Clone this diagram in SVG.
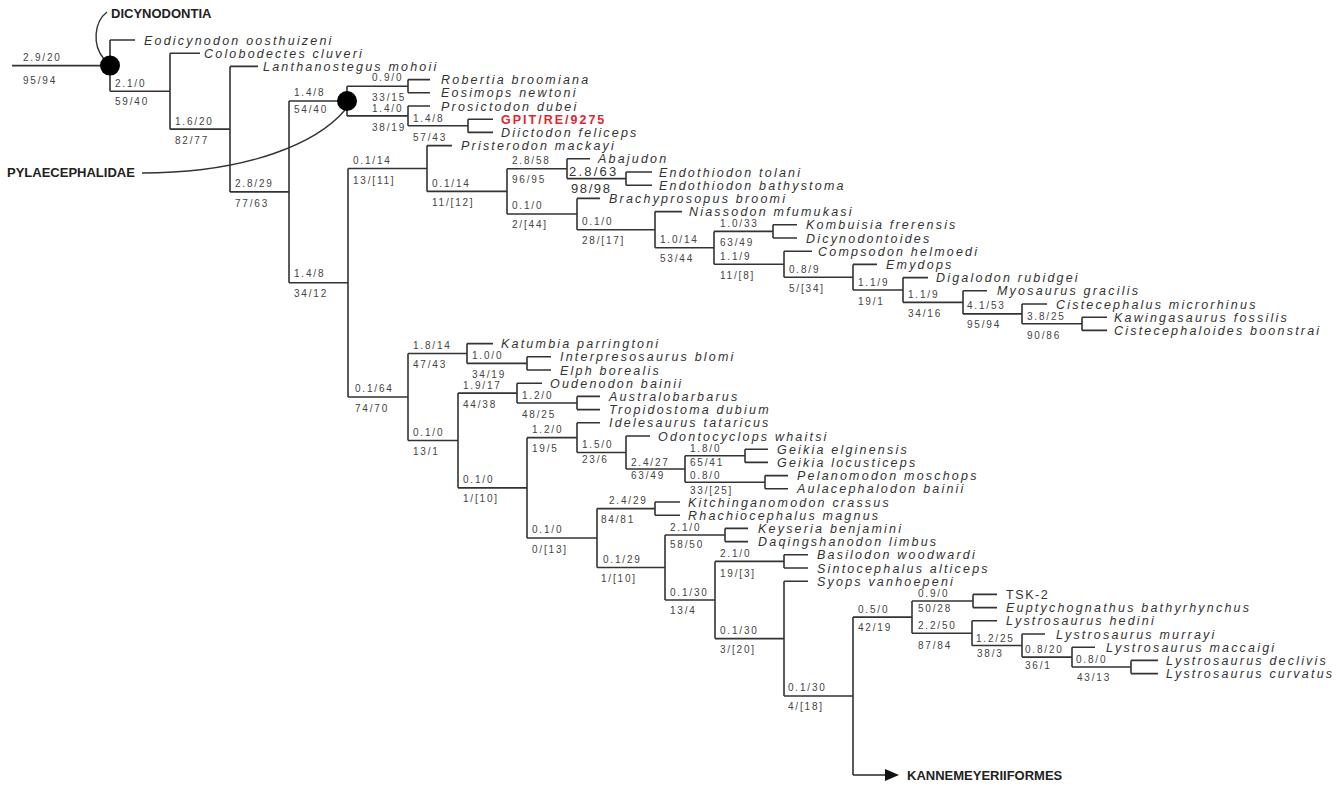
<svg xmlns="http://www.w3.org/2000/svg" width="1343" height="787" viewBox="0 0 1343 787">
<style>
.br{fill:none;stroke:#333;stroke-width:1.6}
.sp{font-family:"Liberation Sans",Arial,sans-serif;font-style:italic;font-size:12.5px;letter-spacing:2.2px;fill:#333}
.up{font-family:"Liberation Sans",Arial,sans-serif;font-size:12.5px;letter-spacing:1.6px;fill:#333}
.red{font-family:"Liberation Sans",Arial,sans-serif;font-weight:bold;font-size:12.5px;letter-spacing:2px;fill:#e0262f}
.lb{font-family:"Liberation Sans",Arial,sans-serif;font-size:10px;letter-spacing:1.8px;fill:#444}
.big{font-family:"Liberation Sans",Arial,sans-serif;font-size:13px;letter-spacing:2.2px;fill:#333}
.cl{font-family:"Liberation Sans",Arial,sans-serif;font-weight:bold;font-size:13px;fill:#222}
.dot{fill:#000}
</style>
<defs>
<marker id="arr" markerUnits="userSpaceOnUse" markerWidth="14" markerHeight="12" refX="0" refY="6" orient="auto">
<path d="M0,0 L14,6 L0,12 Z" fill="#111"/>
</marker>
</defs>
<rect width="1343" height="787" fill="#fff"/>
<g id="connectors" class="br">
<path d="M12,65.6 H110"/>
<path d="M110,40 V91.2 M110,40 H135 M110,91.2 H170"/>
<path d="M170,53.2 V129.15 M170,53.2 H200 M170,129.15 H230"/>
<path d="M230,66.4 V191.9 M230,66.4 H258 M230,191.9 H289"/>
<path d="M289,101.05 V282.75 M289,101.05 H347 M289,282.75 H348"/>
<path d="M347,86.2 V115.9 M347,86.2 H408 M347,115.9 H408"/>
<path d="M408,79.6 V92.8 M408,79.6 H430 M408,92.8 H430"/>
<path d="M408,106 V125.8 M408,106 H430 M408,125.8 H468"/>
<path d="M468,119.2 V132.4 M468,119.2 H493 M468,132.4 H493"/>
<path d="M348,168.5 V397 M348,168.5 H427 M348,397 H408"/>
<path d="M427,145.6 V191.4 M427,145.6 H452 M427,191.4 H507"/>
<path d="M507,168.7 V214.05 M507,168.7 H567 M507,214.05 H577"/>
<path d="M567,158.8 V178.6 M567,158.8 H590 M567,178.6 H626"/>
<path d="M626,172 V185.2 M626,172 H652 M626,185.2 H652"/>
<path d="M577,198.4 V229.7 M577,198.4 H600 M577,229.7 H655"/>
<path d="M655,211.6 V247.8 M655,211.6 H682 M655,247.8 H714"/>
<path d="M714,231.4 V264.2 M714,231.4 H773 M714,264.2 H784"/>
<path d="M773,224.8 V238 M773,224.8 H797 M773,238 H797"/>
<path d="M784,251.2 V277.2 M784,251.2 H812 M784,277.2 H853"/>
<path d="M853,264.4 V290 M853,264.4 H877 M853,290 H903"/>
<path d="M903,277.6 V302.35 M903,277.6 H928 M903,302.35 H963"/>
<path d="M963,290.8 V313.9 M963,290.8 H987 M963,313.9 H1022"/>
<path d="M1022,304 V323.8 M1022,304 H1047 M1022,323.8 H1082"/>
<path d="M1082,317.2 V330.4 M1082,317.2 H1107 M1082,330.4 H1107"/>
<path d="M408,353.5 V440.5 M408,353.5 H467 M408,440.5 H458"/>
<path d="M467,343.6 V363.4 M467,343.6 H493 M467,363.4 H527"/>
<path d="M527,356.8 V370 M527,356.8 H551 M527,370 H551"/>
<path d="M458,393.1 V487.85 M458,393.1 H517 M458,487.85 H527"/>
<path d="M517,383.2 V403 M517,383.2 H542 M517,403 H577"/>
<path d="M577,396.4 V409.6 M577,396.4 H600 M577,409.6 H600"/>
<path d="M527,437.65 V538.05 M527,437.65 H577 M527,538.05 H597"/>
<path d="M577,422.8 V452.5 M577,422.8 H600 M577,452.5 H626"/>
<path d="M626,436 V469 M626,436 H650 M626,469 H685"/>
<path d="M685,455.8 V482.2 M685,455.8 H745 M685,482.2 H765"/>
<path d="M745,449.2 V462.4 M745,449.2 H768 M745,462.4 H768"/>
<path d="M765,475.6 V488.8 M765,475.6 H788 M765,488.8 H788"/>
<path d="M597,508.6 V567.5 M597,508.6 H655 M597,567.5 H665"/>
<path d="M655,502 V515.2 M655,502 H680 M655,515.2 H680"/>
<path d="M665,535 V600 M665,535 H725 M665,600 H715"/>
<path d="M725,528.4 V541.6 M725,528.4 H748 M725,541.6 H748"/>
<path d="M715,561.4 V638.6 M715,561.4 H784 M715,638.6 H784"/>
<path d="M784,554.8 V568 M784,554.8 H808 M784,568 H808"/>
<path d="M784,581.2 V696 M784,581.2 H808 M784,696 H853"/>
<path d="M853,617.1 V775 M853,617.1 H912"/>
<path d="M853,775 H885" marker-end="url(#arr)"/>
<path d="M912,601 V633.2 M912,601 H973 M912,633.2 H972"/>
<path d="M973,594.4 V607.6 M973,594.4 H997 M973,607.6 H997"/>
<path d="M972,620.8 V645.55 M972,620.8 H997 M972,645.55 H1022"/>
<path d="M1022,634 V657.1 M1022,634 H1045 M1022,657.1 H1072"/>
<path d="M1072,647.2 V667 M1072,647.2 H1095 M1072,667 H1131"/>
<path d="M1131,660.4 V673.6 M1131,660.4 H1158 M1131,673.6 H1158"/>
<path d="M107,12 C94,22 92,45 104,59" stroke-width="1.4"/>
<path d="M142,173 C250,173 318,142 345,110" stroke-width="1.4"/>
</g>
<g id="node-dicynodontia">
<circle class="dot" cx="110" cy="65.6" r="10"/>
<text class="cl" x="111" y="18">DICYNODONTIA</text>
</g>
<g id="node-pylaecephalidae">
<circle class="dot" cx="347" cy="101" r="10"/>
<text class="cl" x="7" y="177">PYLAECEPHALIDAE</text>
</g>
<g id="node-kannemeyeriiformes"><text class="cl" x="907" y="780">KANNEMEYERIIFORMES</text></g>
<g id="taxa">
<g id="t0"><text class="sp" x="144" y="44.5">Eodicynodon oosthuizeni</text></g>
<g id="t1"><text class="sp" x="204" y="57.7">Colobodectes cluveri</text></g>
<g id="t2"><text class="sp" x="263" y="70.9">Lanthanostegus mohoii</text></g>
<g id="t3"><text class="sp" x="441" y="84.1">Robertia broomiana</text></g>
<g id="t4"><text class="sp" x="441" y="97.3">Eosimops newtoni</text></g>
<g id="t5"><text class="sp" x="441" y="110.5">Prosictodon dubei</text></g>
<g id="t6"><text class="red" x="501" y="123.7">GPIT/RE/9275</text></g>
<g id="t7"><text class="sp" x="501" y="136.9">Diictodon feliceps</text></g>
<g id="t8"><text class="sp" x="461" y="150.1">Pristerodon mackayi</text></g>
<g id="t9"><text class="sp" x="598" y="163.3">Abajudon</text></g>
<g id="t10"><text class="sp" x="659" y="176.5">Endothiodon tolani</text></g>
<g id="t11"><text class="sp" x="659" y="189.7">Endothiodon bathystoma</text></g>
<g id="t12"><text class="sp" x="609" y="202.9">Brachyprosopus broomi</text></g>
<g id="t13"><text class="sp" x="689" y="216.1">Niassodon mfumukasi</text></g>
<g id="t14"><text class="sp" x="806" y="229.3">Kombuisia frerensis</text></g>
<g id="t15"><text class="sp" x="806" y="242.5">Dicynodontoides</text></g>
<g id="t16"><text class="sp" x="818" y="255.7">Compsodon helmoedi</text></g>
<g id="t17"><text class="sp" x="886" y="268.9">Emydops</text></g>
<g id="t18"><text class="sp" x="936" y="282.1">Digalodon rubidgei</text></g>
<g id="t19"><text class="sp" x="997" y="295.3">Myosaurus gracilis</text></g>
<g id="t20"><text class="sp" x="1056" y="308.5">Cistecephalus microrhinus</text></g>
<g id="t21"><text class="sp" x="1114" y="321.7">Kawingasaurus fossilis</text></g>
<g id="t22"><text class="sp" x="1114" y="334.9">Cistecephaloides boonstrai</text></g>
<g id="t23"><text class="sp" x="501" y="348.1">Katumbia parringtoni</text></g>
<g id="t24"><text class="sp" x="560" y="361.3">Interpresosaurus blomi</text></g>
<g id="t25"><text class="sp" x="560" y="374.5">Elph borealis</text></g>
<g id="t26"><text class="sp" x="550" y="387.7">Oudenodon bainii</text></g>
<g id="t27"><text class="sp" x="609" y="400.9">Australobarbarus</text></g>
<g id="t28"><text class="sp" x="609" y="414.1">Tropidostoma dubium</text></g>
<g id="t29"><text class="sp" x="609" y="427.3">Idelesaurus tataricus</text></g>
<g id="t30"><text class="sp" x="658" y="440.5">Odontocyclops whaitsi</text></g>
<g id="t31"><text class="sp" x="777" y="453.7">Geikia elginensis</text></g>
<g id="t32"><text class="sp" x="777" y="466.9">Geikia locusticeps</text></g>
<g id="t33"><text class="sp" x="797" y="480.1">Pelanomodon moschops</text></g>
<g id="t34"><text class="sp" x="797" y="493.3">Aulacephalodon bainii</text></g>
<g id="t35"><text class="sp" x="688" y="506.5">Kitchinganomodon crassus</text></g>
<g id="t36"><text class="sp" x="688" y="519.7">Rhachiocephalus magnus</text></g>
<g id="t37"><text class="sp" x="758" y="532.9">Keyseria benjamini</text></g>
<g id="t38"><text class="sp" x="758" y="546.1">Daqingshanodon limbus</text></g>
<g id="t39"><text class="sp" x="817" y="559.3">Basilodon woodwardi</text></g>
<g id="t40"><text class="sp" x="817" y="572.5">Sintocephalus alticeps</text></g>
<g id="t41"><text class="sp" x="817" y="585.7">Syops vanhoepeni</text></g>
<g id="t42"><text class="up" x="1006" y="598.9">TSK-2</text></g>
<g id="t43"><text class="sp" x="1006" y="612.1">Euptychognathus bathyrhynchus</text></g>
<g id="t44"><text class="sp" x="1006" y="625.3">Lystrosaurus hedini</text></g>
<g id="t45"><text class="sp" x="1056" y="638.5">Lystrosaurus murrayi</text></g>
<g id="t46"><text class="sp" x="1106" y="651.7">Lystrosaurus maccaigi</text></g>
<g id="t47"><text class="sp" x="1166" y="664.9">Lystrosaurus declivis</text></g>
<g id="t48"><text class="sp" x="1166" y="678.1">Lystrosaurus curvatus</text></g>
</g>
<g id="branch-labels" class="lb">
<g id="l-root"><text x="23" y="61">2.9/20</text><text x="23" y="84">95/94</text></g>
<g id="l-A1"><text x="115" y="86.5">2.1/0</text><text x="115" y="105">59/40</text></g>
<g id="l-A2"><text x="175" y="124.5">1.6/20</text><text x="175" y="144">82/77</text></g>
<g id="l-A3"><text x="235" y="186.5">2.8/29</text><text x="235" y="206.5">77/63</text></g>
<g id="l-Pyl"><text x="294" y="96">1.4/8</text><text x="294" y="112.5">54/40</text></g>
<g id="l-A4"><text x="294" y="277">1.4/8</text><text x="294" y="297">34/12</text></g>
<g id="l-RE"><text x="372" y="81">0.9/0</text><text x="372" y="101">33/15</text></g>
<g id="l-PG"><text x="372" y="111.5">1.4/0</text><text x="372" y="131">38/19</text></g>
<g id="l-GD"><text x="413" y="122">1.4/8</text><text x="413" y="141">57/43</text></g>
<g id="l-B1"><text x="353" y="164">0.1/14</text><text x="353" y="184">13/[11]</text></g>
<g id="l-B3"><text x="432" y="187">0.1/14</text><text x="432" y="206">11/[12]</text></g>
<g id="l-B4"><text x="512" y="164">2.8/58</text><text x="512" y="183">96/95</text></g>
<g id="l-Endo"><text class="big" x="569" y="175.5">2.8/63</text><text class="big" x="571" y="193" style="letter-spacing:1.6px">98/98</text></g>
<g id="l-B5"><text x="512" y="208.5">0.1/0</text><text x="512" y="228">2/[44]</text></g>
<g id="l-B6"><text x="582" y="225">0.1/0</text><text x="582" y="244">28/[17]</text></g>
<g id="l-B7"><text x="660" y="243">1.0/14</text><text x="660" y="262">53/44</text></g>
<g id="l-KD"><text x="720" y="227">1.0/33</text><text x="720" y="246">63/49</text></g>
<g id="l-B8"><text x="720" y="260">1.1/9</text><text x="720" y="279">11/[8]</text></g>
<g id="l-B9"><text x="789" y="273">0.8/9</text><text x="789" y="292">5/[34]</text></g>
<g id="l-B10"><text x="858" y="286">1.1/9</text><text x="858" y="305">19/1</text></g>
<g id="l-B11"><text x="908" y="298">1.1/9</text><text x="908" y="317">34/16</text></g>
<g id="l-B12"><text x="967" y="309">4.1/53</text><text x="967" y="328">95/94</text></g>
<g id="l-KC"><text x="1027" y="320">3.8/25</text><text x="1027" y="339">90/86</text></g>
<g id="l-B2"><text x="355" y="392">0.1/64</text><text x="355" y="412">74/70</text></g>
<g id="l-C1"><text x="413" y="349">1.8/14</text><text x="413" y="368">47/43</text></g>
<g id="l-IE"><text x="472" y="359">1.0/0</text><text x="472" y="378">34/19</text></g>
<g id="l-C2"><text x="413" y="436">0.1/0</text><text x="413" y="455">13/1</text></g>
<g id="l-C3"><text x="463" y="389">1.9/17</text><text x="463" y="408">44/38</text></g>
<g id="l-AT"><text x="522" y="399">1.2/0</text><text x="522" y="418">48/25</text></g>
<g id="l-C4"><text x="463" y="483">0.1/0</text><text x="463" y="502">1/[10]</text></g>
<g id="l-C5"><text x="532" y="433">1.2/0</text><text x="532" y="452">19/5</text></g>
<g id="l-C7"><text x="582" y="448">1.5/0</text><text x="582" y="463">23/6</text></g>
<g id="l-C8"><text x="631" y="466">2.4/27</text><text x="631" y="479">63/49</text></g>
<g id="l-Geikia"><text x="690" y="452">1.8/0</text><text x="690" y="466">65/41</text></g>
<g id="l-PA"><text x="690" y="479">0.8/0</text><text x="690" y="494">33/[25]</text></g>
<g id="l-C6"><text x="532" y="533">0.1/0</text><text x="532" y="553">0/[13]</text></g>
<g id="l-KR"><text x="609" y="504">2.4/29</text><text x="601" y="523">84/81</text></g>
<g id="l-C9"><text x="603" y="563">0.1/29</text><text x="601" y="582">1/[10]</text></g>
<g id="l-KD2"><text x="670" y="531">2.1/0</text><text x="670" y="548">58/50</text></g>
<g id="l-C10"><text x="670" y="596">0.1/30</text><text x="670" y="614">13/4</text></g>
<g id="l-BS"><text x="720" y="557">2.1/0</text><text x="720" y="577">19/[3]</text></g>
<g id="l-C11"><text x="720" y="634">0.1/30</text><text x="720" y="653">3/[20]</text></g>
<g id="l-C12"><text x="788" y="691">0.1/30</text><text x="788" y="710">4/[18]</text></g>
<g id="l-C13"><text x="858" y="613">0.5/0</text><text x="858" y="631">42/19</text></g>
<g id="l-TE"><text x="918" y="597">0.9/0</text><text x="918" y="612">50/28</text></g>
<g id="l-C14"><text x="918" y="629">2.2/50</text><text x="918" y="649">87/84</text></g>
<g id="l-C15"><text x="976" y="642">1.2/25</text><text x="977" y="657">38/3</text></g>
<g id="l-C16"><text x="1025" y="653">0.8/20</text><text x="1025" y="669">36/1</text></g>
<g id="l-C17"><text x="1076" y="663">0.8/0</text><text x="1077" y="681">43/13</text></g>
</g>
</svg>
